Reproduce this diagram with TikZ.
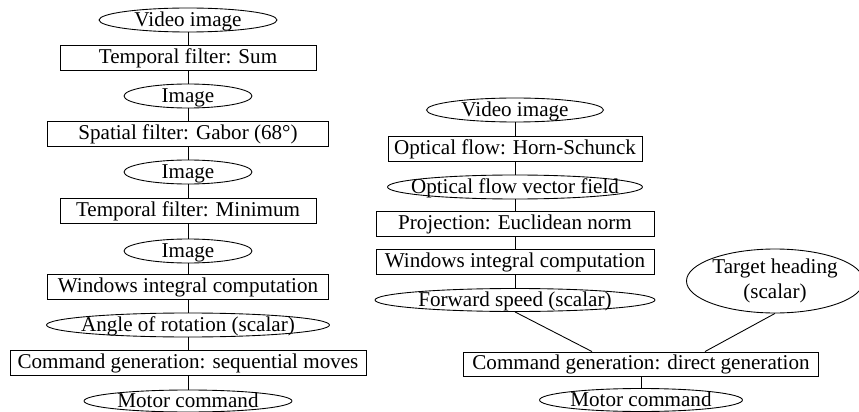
\documentclass[tikz,border=0pt]{standalone}
\usepackage{fontspec}
\setmainfont{Liberation Serif}
\usetikzlibrary{shapes.geometric}

\newcommand{\inell}[1]{\makebox[0pt]{#1}}

\begin{document}
\begin{tikzpicture}[-,x=0.02cm,y=-0.02cm,line width=0.5pt,
  font=\fontsize{12}{14}\selectfont,
  proc node/.style={rectangle,draw,inner sep=0pt,minimum height=0.5cm},
  data node/.style={ellipse,draw,inner sep=0pt,minimum height=0.48cm,
    text height=1.6ex,text depth=0pt}]

  \useasboundingbox (0,0) rectangle (859,412);

  % left chain
  \node[data node,minimum width=3.56cm] (vid1) at (188,20) {\inell{Video image}};
  \node[proc node,minimum width=5.12cm] (tf1) at (188,58) {Temporal filter: Sum};
  \node[data node,minimum width=2.56cm] (img1) at (188,96) {\inell{Image}};
  \node[proc node,minimum width=5.62cm] (sf) at (188,134) {Spatial filter: Gabor (68°)};
  \node[data node,minimum width=2.56cm] (img2) at (188,172) {\inell{Image}};
  \node[proc node,minimum width=5.12cm] (tf2) at (188,211) {Temporal filter: Minimum};
  \node[data node,minimum width=2.56cm] (img3) at (188,251) {\inell{Image}};
  \node[proc node,minimum width=5.62cm] (win1) at (188,287) {Windows integral computation};
  \node[data node,minimum width=5.66cm] (angle) at (188,325) {\inell{Angle of rotation (scalar)}};
  \node[proc node,minimum width=7.12cm] (cmd1) at (188,363) {Command generation: sequential moves};
  \node[data node,minimum width=4.16cm,minimum height=0.44cm] (mot1) at (188,401) {\inell{Motor command}};

  % right chain
  \node[data node,minimum width=3.54cm] (vid2) at (515,110) {\inell{Video image}};
  \node[proc node,minimum width=5.08cm] (of) at (515,149) {Optical flow: Horn-Schunck};
  \node[data node,minimum width=5.1cm] (off) at (515,187) {\inell{Optical flow vector field}};
  \node[proc node,minimum width=5.56cm] (proj) at (515,224) {Projection: Euclidean norm};
  \node[proc node,minimum width=5.56cm] (win2) at (515,262) {Windows integral computation};
  \node[data node,minimum width=5.6cm,minimum height=0.46cm] (fwd) at (515,300) {\inell{Forward speed (scalar)}};
  \node[ellipse,draw,inner sep=0pt,minimum width=3.34cm,minimum height=1.28cm,align=center] (tgt) at (775,281) {Target heading\\(scalar)};
  \node[proc node,minimum width=7.1cm,minimum height=0.48cm] (cmd2) at (641,364) {Command generation: direct generation};
  \node[data node,minimum width=4.06cm,minimum height=0.46cm] (mot2) at (641,400) {\inell{Motor command}};

  \path
    (vid1) edge (tf1)
    (tf1) edge (img1)
    (img1) edge (sf)
    (sf) edge (img2)
    (img2) edge (tf2)
    (tf2) edge (img3)
    (img3) edge (win1)
    (win1) edge (angle)
    (angle) edge (cmd1)
    (cmd1) edge (mot1)
    (vid2) edge (of)
    (of) edge (off)
    (off) edge (proj)
    (proj) edge (win2)
    (win2) edge (fwd)
    (fwd.south) edge ([xshift=-0.98cm]cmd2.north)
    (tgt.south) edge ([xshift=1.28cm]cmd2.north)
    (cmd2) edge (mot2)
    ;

\end{tikzpicture}
\end{document}
